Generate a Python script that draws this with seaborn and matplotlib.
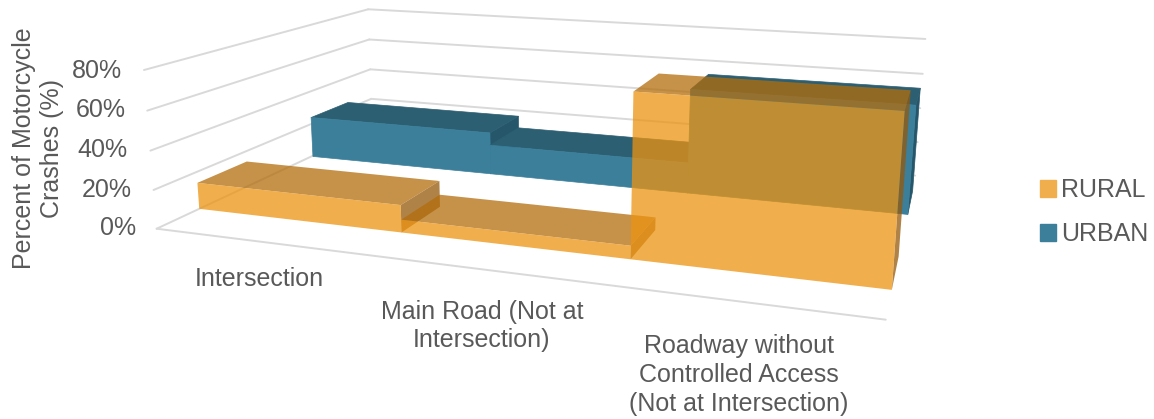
import seaborn as sns
import matplotlib.pyplot as plt
from matplotlib.colors import to_rgba
from matplotlib.patches import Patch
from mpl_toolkits.mplot3d.art3d import Poly3DCollection

categories = ["Intersection", "Main Road (Not at\nIntersection)",
              "Roadway without\nControlled Access\n(Not at Intersection)"]
series = ["RURAL", "URBAN"]
rural = [14.1, 6.6, 79.1]
urban = [24.4, 17.1, 58.1]
ticks = [0, 20, 40, 60, 80]

sns.set_theme(style="white")
plt.rcParams['font.family'] = ['Liberation Sans', 'DejaVu Sans']

grid_col = "#D9D9D9"
text_col = "#595959"
# front, top, side colours of each series
rural_cols = ("#EC9310", "#B36D0C", "#95590B")
urban_cols = ("#3B7F9B", "#2C5F72", "#26566A")
swatch = {"RURAL": "#F1AE4C", "URBAN": "#3B7F9B"}

fig = plt.figure(figsize=(11.54, 4.19), dpi=100)
ax = fig.add_axes([0.3917, 0.4239, 0.1918, 0.5282], projection='3d', computed_zorder=False)
ax.set_proj_type('persp', focal_length=1)
ax.set_xlim(0, 3)
ax.set_ylim(0, 1)
ax.set_zlim(0, 80)
ax.view_init(elev=13.476, azim=-71.306, roll=-0.232)
ax.set_box_aspect((1, 0.648, 0.228), zoom=3.524)
ax.set_axis_off()

# walls and floor
for t in ticks:
    ax.plot([0, 0], [0, 1], [t, t], color=grid_col, lw=1.4, zorder=1, clip_on=False)
    ax.plot([0, 3], [1, 1], [t, t], color=grid_col, lw=1.4, zorder=1, clip_on=False)
ax.plot([0, 3], [0, 0], [0, 0], color=grid_col, lw=1.4, zorder=1, clip_on=False)

order = [2]


def add_face(verts, col, alpha):
    # opaque faces get an edge so no white seam shows between them
    edge = col if alpha == 1 else 'none'
    poly = Poly3DCollection([verts], facecolors=[to_rgba(col, alpha)], edgecolors=edge,
                            linewidths=0.5, zorder=order[0])
    ax.add_collection3d(poly)
    poly.set_clip_on(False)
    order[0] += 1


def draw_series(values, y0, y1, cols, alpha):
    for i, v in enumerate(values):
        x0, x1 = i, i + 1
        add_face([(x1, y0, 0), (x1, y1, 0), (x1, y1, v), (x1, y0, v)], cols[2], alpha)
        add_face([(x0, y0, v), (x1, y0, v), (x1, y1, v), (x0, y1, v)], cols[1], alpha)
        add_face([(x0, y0, 0), (x1, y0, 0), (x1, y0, v), (x0, y0, v)], cols[0], alpha)


draw_series(urban, 0.658, 0.859, urban_cols, 1)
draw_series(rural, 0.154, 0.353, rural_cols, 0.75)

tick_pos = [(136, 228), (132, 190), (128, 150), (126, 110), (122, 71)]
for t, (px, py) in zip(ticks, tick_pos):
    fig.text(px / 1154, 1 - py / 419, f"{t}%", ha='right', va='center', fontsize=18, color=text_col)

label_pos = [(259, 279), (482, 326), (739, 375)]
for c, (px, py) in zip(categories, label_pos):
    fig.text(px / 1154, 1 - py / 419, c, ha='center', va='center', fontsize=18, color=text_col,
             linespacing=1.24)

fig.text(38 / 1154, 1 - 148 / 419, "Percent of Motorcycle\nCrashes (%)", rotation=90,
         ha='center', va='center', fontsize=18, color=text_col)

handles = [Patch(color=swatch[s], label=s) for s in series]
fig.legend(handles=handles, loc='center left', bbox_to_anchor=(1040 / 1154, 1 - 212 / 419),
           frameon=False, fontsize=18, labelcolor=text_col, handlelength=0.65, handleheight=0.65,
           handletextpad=0.2, labelspacing=0.8, borderpad=0, borderaxespad=0)

fig.savefig("out.png", dpi=100)
